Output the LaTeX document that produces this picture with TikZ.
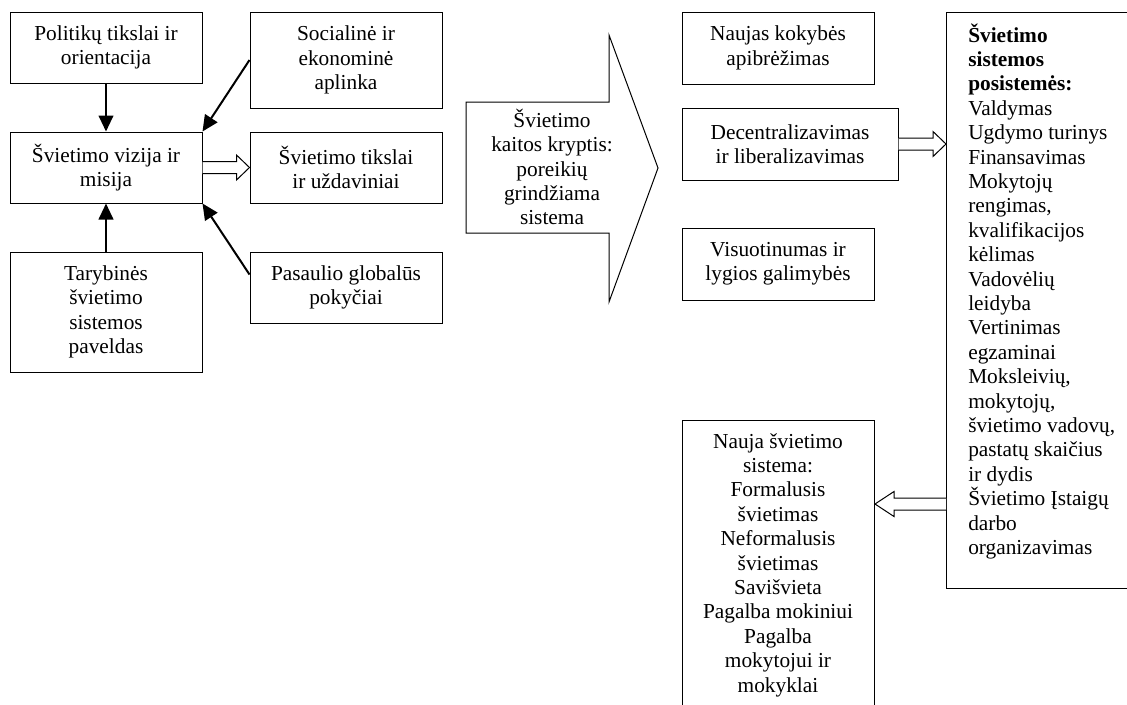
\documentclass[tikz,border=0pt]{standalone}
\usepackage{fontspec}
\setmainfont{Liberation Serif}
\usetikzlibrary{arrows.meta,calc}
\begin{document}
\begin{tikzpicture}[x=0.75pt,y=-0.75pt,
  txt/.style={font=\fontsize{16}{18.3}\selectfont},
  box/.style={draw, line width=0.75pt, inner sep=0pt, align=center, txt},
  blk/.style={line width=1.5pt, -{Triangle[length=12pt,width=11pt]}},
  hollow/.style={draw, line width=0.75pt, fill=white, line join=miter}]
\clip (0,0) rectangle (1127,704);
\fill[white] (0,0) rectangle (1127,704);
% left group
\node[box, minimum width=144pt, minimum height=53.25pt] (pol) at (106,47.5) {Politikų tikslai ir\\orientacija};
\node[box, minimum width=144pt, minimum height=72pt] (soc) at (346,60) {Socialinė ir\\ekonominė\\aplinka};
\node[box, minimum width=144pt, minimum height=53.25pt] (viz) at (106,167.5) {Švietimo vizija ir\\misija};
\node[box, minimum width=144pt, minimum height=53.25pt] (tik) at (346,167.5) {Švietimo tikslai\\ir uždaviniai};
\node[box, minimum width=144pt, minimum height=90pt] (tar) at (106,312) {Tarybinės\\švietimo\\sistemos\\paveldas};
\node[box, minimum width=144pt, minimum height=53.25pt] (pas) at (346,287.5) {Pasaulio globalūs\\pokyčiai};
% black arrows
\draw[blk] (pol.south) -- (viz.north);
\draw[blk] (soc.west) -- (viz.north east);
\draw[blk] (tar.north) -- (viz.south);
\draw[blk] ($(pas.north west)+(0,23)$) -- (viz.south east);
% hollow arrow viz -> tik
\draw[hollow] ($(viz.east)+(0,-6)$) -- ($(tik.west)+(-13,-6)$) -- ($(tik.west)+(-13,-12.5)$) -- (tik.west) -- ($(tik.west)+(-13,12.5)$) -- ($(tik.west)+(-13,6)$) -- ($(viz.east)+(0,6)$);
% big arrow
\draw[line width=0.75pt, line join=miter] (466,102) -- (609,102) -- (609,35) -- (658,168) -- (609,302) -- (609,233) -- (466,233) -- cycle;
\node[txt, align=center, inner sep=0pt] (kait) at (552,167) {Švietimo\\kaitos kryptis:\\poreikių\\grindžiama\\sistema};
% middle column
\node[box, minimum width=144pt, minimum height=54pt] (nau) at (778,48) {Naujas kokybės\\apibrėžimas};
\node[box, minimum width=162pt, minimum height=54pt] (dec) at (790,144) {Decentralizavimas\\ir liberalizavimas};
\node[box, minimum width=144pt, minimum height=54pt] (vis) at (778,264) {Visuotinumas ir\\lygios galimybės};
% right system box
\node[draw, line width=0.75pt, inner sep=0pt, minimum width=145.5pt, minimum height=432pt, anchor=north west] (sys) at (946,12) {};
\node[txt, anchor=base west, inner sep=0pt] (syst) at (968,42) {\parbox[t]{165pt}{\raggedright\textbf{Švietimo}\\\textbf{sistemos}\\\textbf{posistemės:}\\Valdymas\\Ugdymo turinys\\Finansavimas\\Mokytojų\\rengimas,\\kvalifikacijos\\kėlimas\\Vadovėlių\\leidyba\\Vertinimas\\egzaminai\\Moksleivių,\\mokytojų,\\švietimo vadovų,\\pastatų skaičius\\ir dydis\\Švietimo Įstaigų\\darbo\\organizavimas}};
% new system box
\node[draw, line width=0.75pt, inner sep=0pt, minimum width=144pt, minimum height=225pt, anchor=north west] (nsys) at (682,420) {};
\node[txt, anchor=base, inner sep=0pt] (nsyst) at (778,448) {\parbox[t]{140pt}{\centering Nauja švietimo\\sistema:\\Formalusis\\švietimas\\Neformalusis\\švietimas\\Savišvieta\\Pagalba mokiniui\\Pagalba\\mokytojui ir\\mokyklai}};
% hollow arrow dec -> sys
\coordinate (t2) at (sys.west |- dec.east);
\draw[hollow] ($(dec.east)+(0,-6)$) -- ($(t2)+(-13,-6)$) -- ($(t2)+(-13,-12.5)$) -- (t2) -- ($(t2)+(-13,12.5)$) -- ($(t2)+(-13,6)$) -- ($(dec.east)+(0,6)$);
% hollow arrow sys -> nsys
\coordinate (t3) at ($(nsys.north east)+(0,84)$);
\coordinate (s3) at (sys.west |- t3);
\draw[hollow] ($(s3)+(0,-6)$) -- ($(t3)+(19,-6)$) -- ($(t3)+(19,-12.5)$) -- (t3) -- ($(t3)+(19,12.5)$) -- ($(t3)+(19,6)$) -- ($(s3)+(0,6)$);
\end{tikzpicture}
\end{document}
